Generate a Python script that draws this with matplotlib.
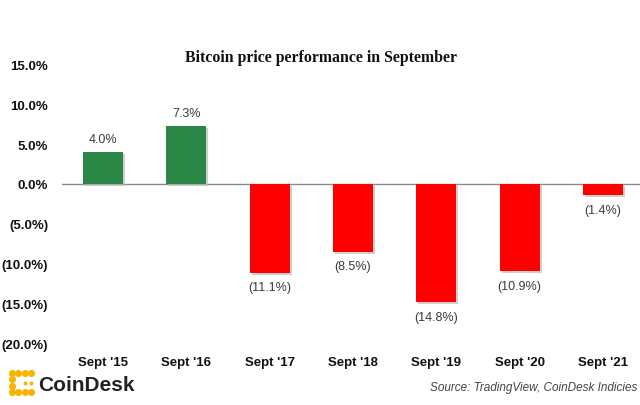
import numpy as np
import matplotlib
matplotlib.use("Agg")
import matplotlib.pyplot as plt
import matplotlib.patheffects as pe

# datos del grafico
months = ["Sept '15", "Sept '16", "Sept '17", "Sept '18", "Sept '19", "Sept '20", "Sept '21"]
returns = [4.0, 7.3, -11.1, -8.5, -14.8, -10.9, -1.4]
y_ticks = [15, 10, 5, 0, -5, -10, -15, -20]

GREEN = "#2a8745"
RED = "#ff0000"


def pct(v):
    if v < 0:
        return "(%.1f%%)" % abs(v)
    return "%.1f%%" % v


fig = plt.figure(figsize=(6.4, 4.06), dpi=100)
ax = fig.add_axes([62 / 640, 61 / 406, 578 / 640, 280 / 406])

x = np.arange(len(months))
colors = [GREEN if v >= 0 else RED for v in returns]
bars = ax.bar(x, returns, width=0.48, color=colors, zorder=3)
for b in bars:
    b.set_path_effects([pe.SimplePatchShadow(offset=(1.5, -1.5), shadow_rgbFace="#bbbbbb", alpha=0.7),
                        pe.Normal()])

ax.axhline(0, color="#8a8a8a", lw=1.0, zorder=2)

for xi, v in zip(x, returns):
    if v >= 0:
        ax.annotate(pct(v), (xi, v), xytext=(0, 5), textcoords="offset points",
                    ha="center", va="bottom", fontsize=9, color="#3a3a3a",
                    family="Liberation Sans")
    else:
        ax.annotate(pct(v), (xi, v), xytext=(0, -6), textcoords="offset points",
                    ha="center", va="top", fontsize=9, color="#3a3a3a",
                    family="Liberation Sans")

ax.set_xlim(-0.492, 6.446)
ax.set_ylim(-20, 15)
ax.set_xticks(x)
ax.set_xticklabels(months, fontsize=9.5, fontweight="bold", family="Liberation Sans", color="#111111")
ax.set_yticks(y_ticks)
ax.set_yticklabels([pct(v) for v in y_ticks], fontsize=9.5, fontweight="bold",
                   family="Liberation Sans", color="#111111")
ax.tick_params(axis="both", length=0)
ax.tick_params(axis="x", pad=9)
ax.tick_params(axis="y", pad=10)
for s in ax.spines.values():
    s.set_visible(False)

fig.text(321 / 640, 1 - 58 / 406, "Bitcoin price performance in September",
         ha="center", va="center", fontsize=11.4, fontweight="bold",
         family="Liberation Serif", color="#111111")

# logo CoinDesk (puntos amarillos)
lax = fig.add_axes([9 / 640, 10 / 406, 25 / 640, 25 / 406])
big = [(0, 0), (0, 1), (0, 2), (0, 3), (1, 3), (2, 3), (3, 3), (1, 0), (2, 0), (3, 0)]
small = [(2, 1.5), (3, 1.5)]
lax.scatter([p[0] for p in big], [p[1] for p in big], s=26, marker="o", color="#f7b500", lw=0)
lax.scatter([p[0] for p in small], [p[1] for p in small], s=8, marker="o", color="#f7b500", lw=0)
lax.set_xlim(-0.5, 3.5)
lax.set_ylim(-0.5, 3.5)
lax.axis("off")

fig.text(38 / 640, 1 - 386 / 406, "CoinDesk", ha="left", va="center", fontsize=15,
         fontweight="bold", family="Liberation Sans", color="#222222")
fig.text(637 / 640, 1 - 388 / 406, "Source: TradingView, CoinDesk Indicies", ha="right",
         va="center", fontsize=8.5, style="italic", family="Liberation Sans", color="#444444")

plt.savefig("out.png", dpi=100)
